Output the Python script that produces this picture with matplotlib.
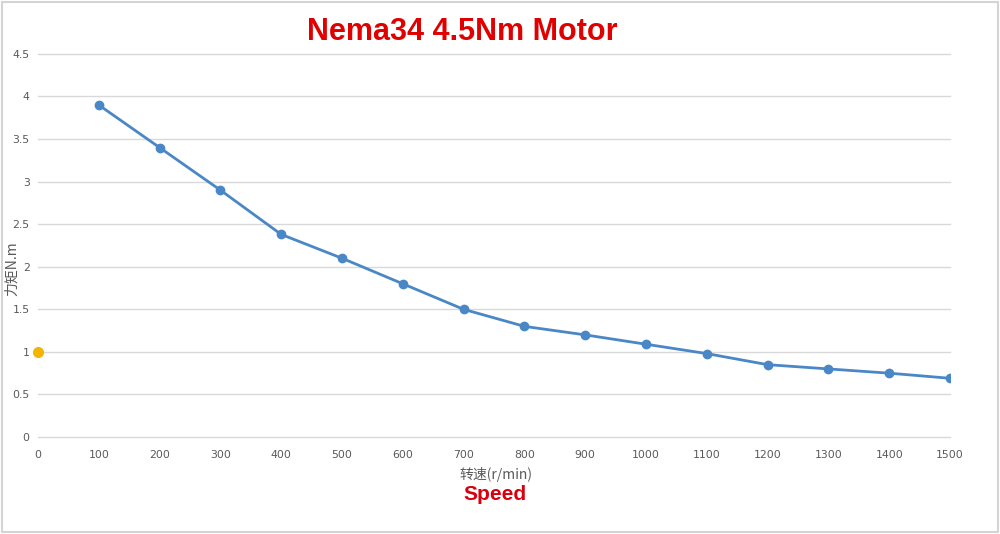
import matplotlib
matplotlib.use("Agg")
import matplotlib.pyplot as plt
from matplotlib.patches import Rectangle

plt.rcParams['font.family'] = ['DejaVu Sans', 'Noto Sans CJK SC']

# Dados
speed = [100, 200, 300, 400, 500, 600, 700, 800, 900, 1000, 1100, 1200, 1300, 1400, 1500]
torque = [3.9, 3.4, 2.9, 2.38, 2.1, 1.8, 1.5, 1.3, 1.2, 1.09, 0.98, 0.85, 0.8, 0.75, 0.69]
extra_x = [0]
extra_y = [1.0]
x_ticks = list(range(0, 1501, 100))
y_ticks = [0, 0.5, 1, 1.5, 2, 2.5, 3, 3.5, 4, 4.5]
y_tick_labels = ["0", "0.5", "1", "1.5", "2", "2.5", "3", "3.5", "4", "4.5"]

fig = plt.figure(figsize=(10, 5.34), dpi=100)
ax = fig.add_axes([0.038, 0.1816, 0.912, 0.7174])

ax.plot(speed, torque, color="#4a87c6", lw=2.0, marker="o", ms=6, zorder=3)
ax.plot(extra_x, extra_y, color="#f5b400", marker="o", ms=7, ls="none", zorder=3, clip_on=False)

ax.set_xlim(0, 1500)
ax.set_ylim(0, 4.5)
ax.set_xticks(x_ticks)
ax.set_yticks(y_ticks)
ax.set_yticklabels(y_tick_labels)
ax.tick_params(length=0, labelsize=7.8, colors="#595959")
ax.tick_params(axis="x", pad=9)
ax.tick_params(axis="y", pad=6)
ax.grid(axis="y", color="#d9d9d9", lw=1)
for gl in ax.get_ygridlines():
    gl.set_clip_on(False)
ax.set_axisbelow(True)
for s in ax.spines.values():
    s.set_visible(False)

# Textos
fig.text(0.012, 1 - 269 / 534, "力矩N.m", rotation=90, ha="center", va="center",
         fontsize=10, color="#595959", family=['Noto Sans CJK SC', 'DejaVu Sans'])
fig.text(0.496, 1 - 475 / 534, "转速(r/min)", ha="center", va="center",
         fontsize=10, color="#595959", family=['Noto Sans CJK SC', 'DejaVu Sans'])
fig.text(0.495, 1 - 495 / 534, "Speed", ha="center", va="center",
         fontsize=15, color="#d8000c", fontweight="bold", family="Liberation Sans")
fig.text(0.462, 1 - 32 / 534, "Nema34 4.5Nm Motor", ha="center", va="center",
         fontsize=22, color="#e00000", fontweight="bold", family="Liberation Sans")

# Moldura cinza clara
fig.patches.append(Rectangle((0.002, 0.004), 0.996, 0.992, transform=fig.transFigure,
                             fill=False, edgecolor="#d4d4d4", lw=1.5))

fig.savefig("out.png", dpi=100)
